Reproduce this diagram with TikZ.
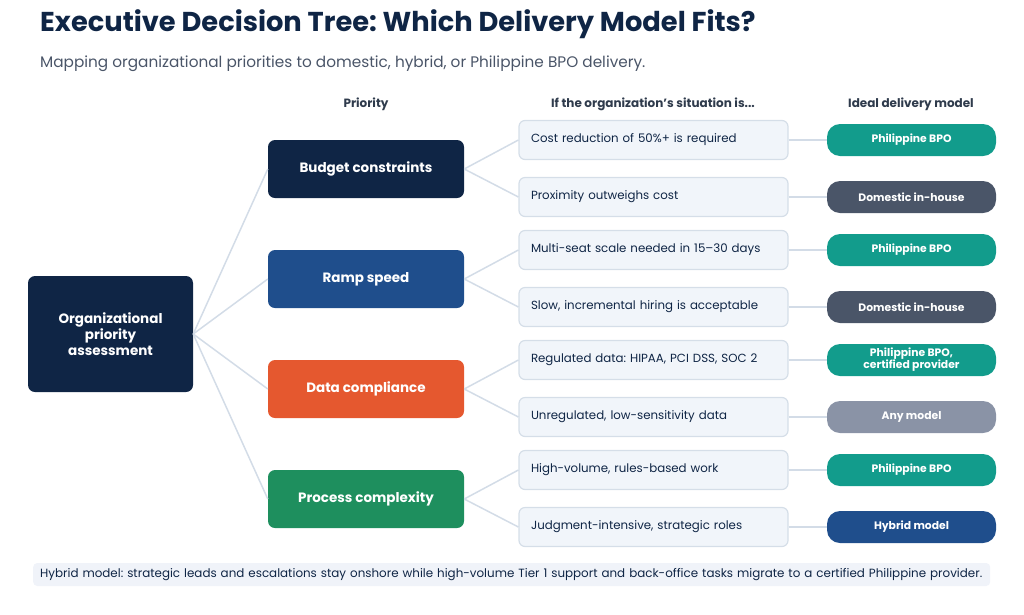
\documentclass[tikz,border=0pt]{standalone}
\usepackage{fontspec}
\setmainfont{Poppins}
\frenchspacing
\usetikzlibrary{positioning}
\definecolor{navy}{HTML}{0F2545}
\definecolor{rampblue}{HTML}{1F4E8C}
\definecolor{dataorange}{HTML}{E5582F}
\definecolor{procgreen}{HTML}{1E8F5E}
\definecolor{bpoteal}{HTML}{129C8C}
\definecolor{domgray}{HTML}{4A5568}
\definecolor{anygray}{HTML}{8A93A6}
\definecolor{sitfill}{HTML}{F1F5FA}
\definecolor{sitline}{HTML}{D5DEE8}
\definecolor{linkgray}{HTML}{D3DCE7}
\definecolor{subgray}{HTML}{4A5568}
\definecolor{headgray}{HTML}{2F3B4C}
\definecolor{footbg}{HTML}{F0F3F9}

\begin{document}
\begin{tikzpicture}[x=1pt,y=-1pt,
    prio/.style={rounded corners=7pt, text=white, minimum width=196pt, minimum height=58pt,
      font=\fontsize{13.5}{16}\selectfont\bfseries, align=center},
    sit/.style={rounded corners=6pt, draw=sitline, line width=1.2pt, fill=sitfill, text=navy,
      minimum height=39pt, text width=245pt, inner xsep=12pt, align=left,
      font=\fontsize{11.8}{14}\selectfont},
    pill/.style={rounded corners=13pt, text=white, minimum width=169pt, minimum height=32pt,
      inner sep=2pt, font=\fontsize{10.8}{11.8}\selectfont\bfseries, align=center},
    link/.style={linkgray, line width=1.5pt},
    colhead/.style={text=headgray, font=\fontsize{12}{14}\selectfont\bfseries}]
  \useasboundingbox (0,0) rectangle (1024,614);

  % title and subtitle
  \node[anchor=west, text=navy, inner sep=0, font=\fontsize{27.3}{31}\selectfont\bfseries] (title) at (40,24) {Executive Decision Tree: Which Delivery Model Fits?};
  \node[anchor=west, text=subgray, inner sep=0, font=\fontsize{15.3}{18}\selectfont] (subtitle) at (40,64) {Mapping organizational priorities to domestic, hybrid, or Philippine BPO delivery.};

  % column headers
  \node[colhead] (hprio) at (366,104) {Priority};
  \node[colhead] (hsit) at (653,104) {If the organization’s situation is...};
  \node[colhead] (hmodel) at (911,104) {Ideal delivery model};

  % root
  \node[prio, fill=navy, minimum width=165pt, minimum height=116pt] (root) at (110.5,334) {Organizational\\priority\\assessment};

  % priorities
  \foreach \n/\y/\c/\t in {budget/169/navy/Budget constraints, ramp/279/rampblue/Ramp speed,
      data/389/dataorange/Data compliance, proc/499/procgreen/Process complexity} {
    \node[prio, fill=\c] (\n) at (366,\y) {\t};
    \draw[link] (root.east) -- (\n.west);
  }

  % situations
  \foreach \i/\p/\y/\t in {1/budget/140/{Cost reduction of 50\%+ is required},
      2/budget/197/{Proximity outweighs cost},
      3/ramp/250/{Multi-seat scale needed in 15–30 days},
      4/ramp/307/{Slow, incremental hiring is acceptable},
      5/data/360/{Regulated data: HIPAA, PCI DSS, SOC 2},
      6/data/417/{Unregulated, low-sensitivity data},
      7/proc/470/{High-volume, rules-based work},
      8/proc/527/{Judgment-intensive, strategic roles}} {
    \node[sit] (s\i) at (653.5,\y) {\t};
    \draw[link] (\p.east) -- (s\i.west);
  }

  % delivery models
  \foreach \i/\y/\c/\t in {1/140/bpoteal/{Philippine BPO}, 2/197/domgray/{Domestic in-house},
      3/250/bpoteal/{Philippine BPO}, 4/307/domgray/{Domestic in-house},
      5/360/bpoteal/{Philippine BPO,\\certified provider}, 6/417/anygray/{Any model},
      7/470/bpoteal/{Philippine BPO}, 8/527/rampblue/{Hybrid model}} {
    \node[pill, fill=\c] (r\i) at (911.5,\y) {\t};
    \draw[link] (s\i.east) -- (r\i.west);
  }

  % footer note
  \node[anchor=west, fill=footbg, rounded corners=4pt, text=navy, minimum height=23pt,
    text width=943pt, inner xsep=7pt, align=left, font=\fontsize{11.9}{13}\selectfont] (note) at (33,574.5)
    {Hybrid model: strategic leads and escalations stay onshore while high-volume Tier 1 support and back-office tasks migrate to a certified Philippine provider.};
\end{tikzpicture}
\end{document}
